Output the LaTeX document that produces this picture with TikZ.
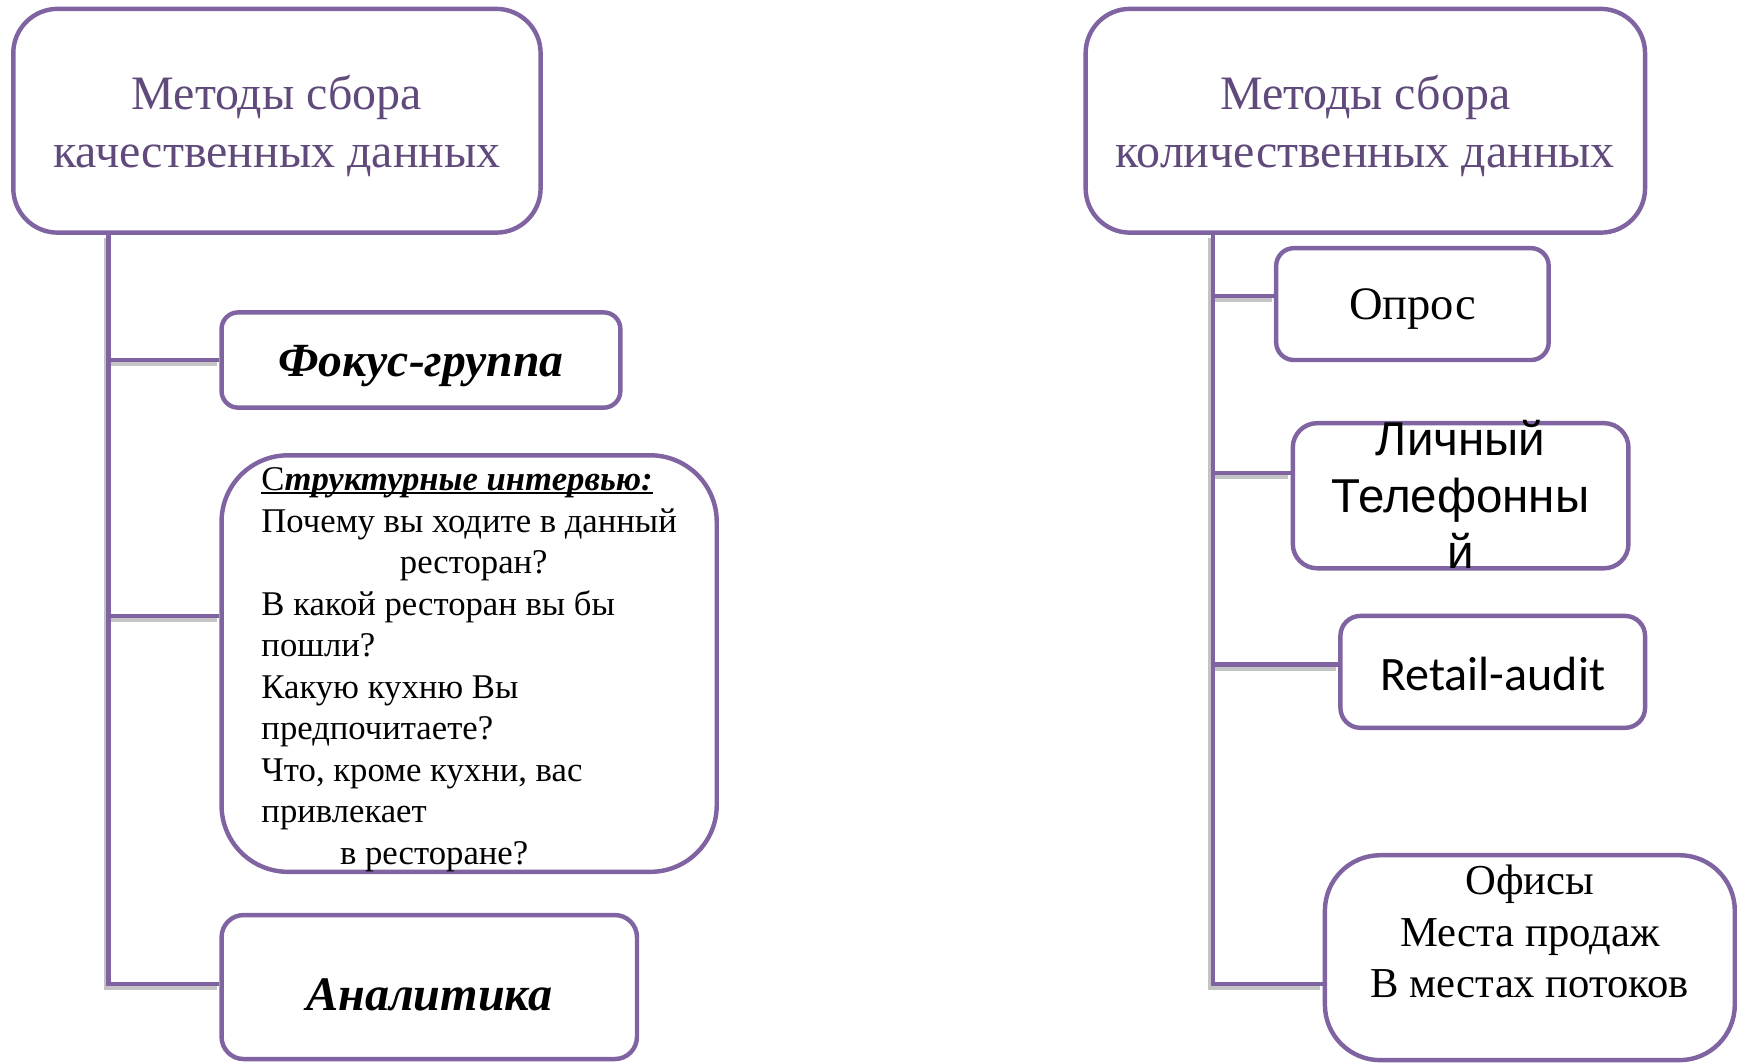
\documentclass[tikz,border=0pt]{standalone}
\usepackage{fontspec}
\setmainfont{Liberation Serif}
\newfontfamily\arialfont{Liberation Sans}
\newfontfamily\calibrifont{Carlito}
\usepackage{tikz}
\usetikzlibrary{backgrounds,calc,positioning}
\definecolor{methpurple}{RGB}{128,100,162}
\definecolor{titleink}{RGB}{96,74,123}
\definecolor{shadegray}{RGB}{196,196,196}
% text set on rows, free to run out of its box
\newcommand{\overtext}[2][0pt]{\raisebox{\dimexpr #1-0.25em\relax}[0pt][0pt]{%
  \begin{tabular}{@{}c@{}}#2\end{tabular}}}
\newcommand{\overleft}[2][0pt]{\raisebox{\dimexpr #1-0.25em\relax}[0pt][0pt]{%
  \begin{tabular}{@{}l@{}}#2\end{tabular}}}
\newcommand{\heavyul}[1]{\setbox0\hbox{#1}\rlap{\rule[-3.5pt]{\wd0}{2pt}}\box0}
\tikzset{
  headbox/.style={draw=methpurple,line width=4pt,rounded corners=40pt,fill=white,
    minimum width=476pt,minimum height=202pt,align=center,text=titleink,
    font=\fontsize{43.3}{52}\selectfont},
  itembox/.style={draw=methpurple,line width=4pt,fill=white,align=center,
    inner sep=3pt},
  branch/.style={draw=methpurple,line width=4pt,
    preaction={draw=shadegray,line width=5pt,
      transform canvas={shift={(-2pt,-3pt)}}}}
}

\begin{document}
\begin{tikzpicture}[x=1pt,y=-1pt]
  \useasboundingbox (0,0) rectangle (1568,960);
  % qualitative side
  \node[headbox] (qualtitle) at (250,109)
    {\overtext[-1pt]{Методы сбора\\качественных данных}};
  \node[itembox,rounded corners=15pt,minimum width=360pt,minimum height=86pt,
    font=\fontsize{43}{52}\selectfont\bfseries\itshape] (focusgroup) at (380,325)
    {\overtext{Фокус-группа}};
  \node[itembox,rounded corners=60pt,minimum width=447pt,minimum height=376pt,
    font=\fontsize{31.3}{37.5}\selectfont] (interviews) at (423.5,599)
    {\overleft[-3.5pt]{\heavyul{С\textbf{\textit{труктурные интервью:}}}\\
     Почему вы ходите в данный\\
     \hspace*{125pt}ресторан?\\
     В какой ресторан вы бы\\
     пошли?\\
     Какую кухню Вы\\
     предпочитаете?\\
     Что, кроме кухни, вас\\
     привлекает\\
     \hspace*{71pt}в ресторане?}};
  \node[itembox,rounded corners=20pt,minimum width=375pt,minimum height=130pt,
    font=\fontsize{43.5}{52}\selectfont\bfseries\itshape] (analytics) at (387.5,891)
    {\overtext[-6pt]{Аналитика}};
  % quantitative side
  \node[headbox,minimum width=505pt] (quanttitle) at (1232.5,109)
    {\overtext[-1pt]{Методы сбора\\количественных данных}};
  \node[itembox,rounded corners=16pt,minimum width=246pt,minimum height=101pt,
    font=\fontsize{42}{50}\selectfont] (survey) at (1275,274.5)
    {\overtext{Опрос}};
  \node[itembox,rounded corners=22pt,minimum width=303pt,minimum height=131pt,
    font=\arialfont\fontsize{42.9}{51}\selectfont] (phone) at (1318.5,447.5)
    {\overtext{Личный\\Телефонны\\й}};
  \node[itembox,rounded corners=18pt,minimum width=275pt,minimum height=101pt,
    font=\calibrifont\fontsize{43.4}{50}\selectfont] (retail) at (1347.5,606.5)
    {\overtext[-2pt]{Retail-audit}};
  \node[itembox,rounded corners=50pt,minimum width=370pt,minimum height=185pt,
    font=\fontsize{38.5}{46.5}\selectfont] (offices) at (1381,864.5)
    {\overtext[23pt]{Офисы\\Места продаж\\В местах потоков}};

  \coordinate (qroot) at ([xshift=-152pt]qualtitle.south);
  \coordinate (nroot) at ([xshift=-137.5pt]quanttitle.south);
  \coordinate (fglink) at (focusgroup.west);
  \coordinate (ivlink) at ([yshift=43pt]interviews.west);
  \coordinate (anlink) at ([yshift=3pt]analytics.west);
  \coordinate (svlink) at ([yshift=7.5pt]survey.west);
  \coordinate (phlink) at ([yshift=20.5pt]phone.west);
  \coordinate (rtlink) at ([yshift=6.5pt]retail.west);
  \coordinate (oflink) at ([yshift=-23.5pt]offices.west);

  \begin{scope}[on background layer]
    \draw[branch] (fglink -| qroot) -- (fglink);
    \draw[branch] (ivlink -| qroot) -- (ivlink);
    \draw[branch] (qroot) |- (anlink);
    \draw[branch] (svlink -| nroot) -- (svlink);
    \draw[branch] (phlink -| nroot) -- (phlink);
    \draw[branch] (rtlink -| nroot) -- (rtlink);
    \draw[branch] (nroot) |- (oflink);
  \end{scope}
\end{tikzpicture}
\end{document}
